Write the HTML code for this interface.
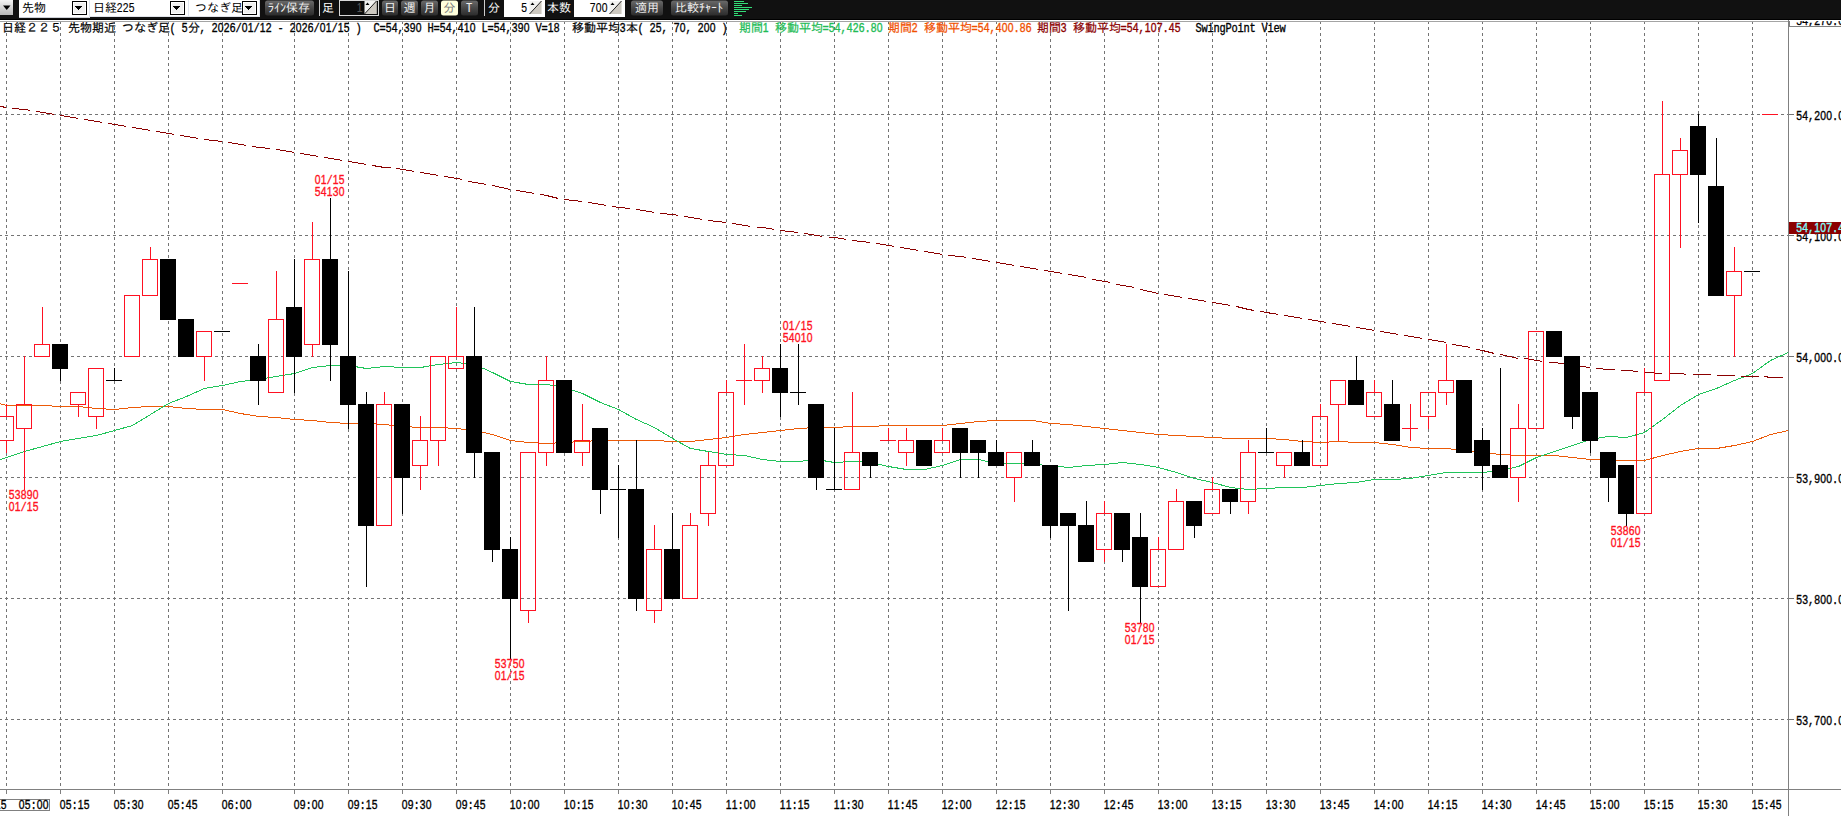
<!DOCTYPE html>
<html lang="ja"><head><meta charset="utf-8"><title>日経225 先物 チャート</title>
<style>html,body{margin:0;padding:0;background:#fff;overflow:hidden}body{width:1841px;height:816px}svg text{white-space:pre}</style>
</head><body>
<svg width="1841" height="816" viewBox="0 0 1841 816" font-family="'Liberation Mono','IPAGothic',monospace" style="display:block">
<rect width="1841" height="816" fill="#fff"/>
<g shape-rendering="crispEdges" stroke="#747474" stroke-width="1" fill="none">
<line x1="6.5" y1="21" x2="6.5" y2="789" stroke-dasharray="3 3"/>
<line x1="60.5" y1="21" x2="60.5" y2="789" stroke-dasharray="3 3"/>
<line x1="114.5" y1="21" x2="114.5" y2="789" stroke-dasharray="3 3"/>
<line x1="168.5" y1="21" x2="168.5" y2="789" stroke-dasharray="3 3"/>
<line x1="222.5" y1="21" x2="222.5" y2="789" stroke-dasharray="3 3"/>
<line x1="294.5" y1="21" x2="294.5" y2="789" stroke-dasharray="3 3"/>
<line x1="348.5" y1="21" x2="348.5" y2="789" stroke-dasharray="3 3"/>
<line x1="402.5" y1="21" x2="402.5" y2="789" stroke-dasharray="3 3"/>
<line x1="456.5" y1="21" x2="456.5" y2="789" stroke-dasharray="3 3"/>
<line x1="510.5" y1="21" x2="510.5" y2="789" stroke-dasharray="3 3"/>
<line x1="564.5" y1="21" x2="564.5" y2="789" stroke-dasharray="3 3"/>
<line x1="618.5" y1="21" x2="618.5" y2="789" stroke-dasharray="3 3"/>
<line x1="672.5" y1="21" x2="672.5" y2="789" stroke-dasharray="3 3"/>
<line x1="726.5" y1="21" x2="726.5" y2="789" stroke-dasharray="3 3"/>
<line x1="780.5" y1="21" x2="780.5" y2="789" stroke-dasharray="3 3"/>
<line x1="834.5" y1="21" x2="834.5" y2="789" stroke-dasharray="3 3"/>
<line x1="888.5" y1="21" x2="888.5" y2="789" stroke-dasharray="3 3"/>
<line x1="942.5" y1="21" x2="942.5" y2="789" stroke-dasharray="3 3"/>
<line x1="996.5" y1="21" x2="996.5" y2="789" stroke-dasharray="3 3"/>
<line x1="1050.5" y1="21" x2="1050.5" y2="789" stroke-dasharray="3 3"/>
<line x1="1104.5" y1="21" x2="1104.5" y2="789" stroke-dasharray="3 3"/>
<line x1="1158.5" y1="21" x2="1158.5" y2="789" stroke-dasharray="3 3"/>
<line x1="1212.5" y1="21" x2="1212.5" y2="789" stroke-dasharray="3 3"/>
<line x1="1266.5" y1="21" x2="1266.5" y2="789" stroke-dasharray="3 3"/>
<line x1="1320.5" y1="21" x2="1320.5" y2="789" stroke-dasharray="3 3"/>
<line x1="1374.5" y1="21" x2="1374.5" y2="789" stroke-dasharray="3 3"/>
<line x1="1428.5" y1="21" x2="1428.5" y2="789" stroke-dasharray="3 3"/>
<line x1="1482.5" y1="21" x2="1482.5" y2="789" stroke-dasharray="3 3"/>
<line x1="1536.5" y1="21" x2="1536.5" y2="789" stroke-dasharray="3 3"/>
<line x1="1590.5" y1="21" x2="1590.5" y2="789" stroke-dasharray="3 3"/>
<line x1="1644.5" y1="21" x2="1644.5" y2="789" stroke-dasharray="3 3"/>
<line x1="1698.5" y1="21" x2="1698.5" y2="789" stroke-dasharray="3 3"/>
<line x1="1752.5" y1="21" x2="1752.5" y2="789" stroke-dasharray="3 3"/>
<line x1="-1" y1="114.5" x2="1788" y2="114.5" stroke-dasharray="3 3"/>
<line x1="1789" y1="114.5" x2="1794" y2="114.5"/>
<line x1="-1" y1="235.5" x2="1788" y2="235.5" stroke-dasharray="3 3"/>
<line x1="1789" y1="235.5" x2="1794" y2="235.5"/>
<line x1="-1" y1="356.5" x2="1788" y2="356.5" stroke-dasharray="3 3"/>
<line x1="1789" y1="356.5" x2="1794" y2="356.5"/>
<line x1="-1" y1="477.5" x2="1788" y2="477.5" stroke-dasharray="3 3"/>
<line x1="1789" y1="477.5" x2="1794" y2="477.5"/>
<line x1="-1" y1="598.5" x2="1788" y2="598.5" stroke-dasharray="3 3"/>
<line x1="1789" y1="598.5" x2="1794" y2="598.5"/>
<line x1="-1" y1="719.5" x2="1788" y2="719.5" stroke-dasharray="3 3"/>
<line x1="1789" y1="719.5" x2="1794" y2="719.5"/>
</g>
<clipPath id="cp"><rect x="0" y="22" width="1788" height="767"/></clipPath>
<g clip-path="url(#cp)">
<polyline points="-11.5,400.5 6.5,405.5 24.5,405.5 42.5,405.5 60.5,406.5 78.5,406.5 96.5,408.5 114.5,409.5 132.5,407.5 150.5,406.5 168.5,406.5 186.5,408.5 204.5,409.5 222.5,409.5 240.5,413.5 258.5,416.5 276.5,417.5 294.5,419.5 312.5,420.5 330.5,422.5 348.5,423.5 366.5,423.5 384.5,424.5 402.5,426.5 420.5,427.5 438.5,427.5 456.5,428.5 474.5,430.5 492.5,434.5 510.5,440.5 528.5,442.5 546.5,443.5 564.5,442.5 582.5,441.5 600.5,440.5 618.5,440.5 636.5,440.5 654.5,440.5 672.5,441.5 690.5,441.5 708.5,439.5 726.5,437.5 744.5,434.5 762.5,432.5 780.5,430.5 798.5,428.5 816.5,427.5 834.5,427.5 852.5,426.5 870.5,426.5 888.5,425.5 906.5,425.5 924.5,425.5 942.5,425.5 960.5,423.5 978.5,421.5 996.5,420.5 1014.5,420.5 1032.5,420.5 1050.5,423.5 1068.5,424.5 1086.5,426.5 1104.5,428.5 1122.5,430.5 1140.5,432.5 1158.5,434.5 1176.5,435.5 1194.5,436.5 1212.5,437.5 1230.5,438.5 1248.5,438.5 1266.5,438.5 1284.5,439.5 1302.5,441.5 1320.5,442.5 1338.5,441.5 1356.5,442.5 1374.5,442.5 1392.5,444.5 1410.5,447.5 1428.5,448.5 1446.5,448.5 1464.5,450.5 1482.5,452.5 1500.5,454.5 1518.5,455.5 1536.5,455.5 1554.5,455.5 1572.5,457.5 1590.5,459.5 1608.5,460.5 1626.5,460.5 1644.5,460.5 1662.5,455.5 1680.5,451.5 1698.5,448.5 1716.5,448.5 1734.5,445.5 1752.5,441.5 1770.5,434.5 1788.5,430.5" fill="none" stroke="#ec5a08" stroke-width="1" shape-rendering="crispEdges"/>
<polyline points="-11.5,463.5 6.5,457.5 24.5,451.5 42.5,446.5 60.5,441.5 78.5,438.5 96.5,435.5 114.5,430.5 132.5,425.5 150.5,414.5 168.5,403.5 186.5,396.5 204.5,388.5 222.5,385.5 240.5,381.5 258.5,379.5 276.5,376.5 294.5,373.5 312.5,367.5 330.5,365.5 348.5,365.5 366.5,368.5 384.5,366.5 402.5,367.5 420.5,367.5 438.5,364.5 456.5,362.5 474.5,364.5 492.5,372.5 510.5,381.5 528.5,384.5 546.5,384.5 564.5,387.5 582.5,393.5 600.5,402.5 618.5,409.5 636.5,419.5 654.5,427.5 672.5,438.5 690.5,448.5 708.5,451.5 726.5,454.5 744.5,455.5 762.5,459.5 780.5,461.5 798.5,461.5 816.5,459.5 834.5,462.5 852.5,461.5 870.5,462.5 888.5,466.5 906.5,469.5 924.5,469.5 942.5,465.5 960.5,459.5 978.5,459.5 996.5,463.5 1014.5,463.5 1032.5,464.5 1050.5,465.5 1068.5,467.5 1086.5,465.5 1104.5,464.5 1122.5,462.5 1140.5,464.5 1158.5,467.5 1176.5,472.5 1194.5,478.5 1212.5,482.5 1230.5,487.5 1248.5,489.5 1266.5,488.5 1284.5,487.5 1302.5,487.5 1320.5,485.5 1338.5,483.5 1356.5,482.5 1374.5,479.5 1392.5,479.5 1410.5,478.5 1428.5,475.5 1446.5,472.5 1464.5,472.5 1482.5,472.5 1500.5,470.5 1518.5,466.5 1536.5,457.5 1554.5,451.5 1572.5,445.5 1590.5,439.5 1608.5,436.5 1626.5,437.5 1644.5,432.5 1662.5,419.5 1680.5,405.5 1698.5,394.5 1716.5,388.5 1734.5,380.5 1752.5,373.5 1770.5,360.5 1788.5,352.5" fill="none" stroke="#20c45a" stroke-width="1" shape-rendering="crispEdges"/>
<polyline points="-11.5,104.5 6.5,107.5" fill="none" stroke="#8b0000" stroke-width="1" shape-rendering="crispEdges"/>
<polyline points="12.5,108.5 24.5,109.5 30.5,110.5" fill="none" stroke="#8b0000" stroke-width="1" shape-rendering="crispEdges"/>
<polyline points="36.5,111.5 42.5,112.5 54.5,114.5" fill="none" stroke="#8b0000" stroke-width="1" shape-rendering="crispEdges"/>
<polyline points="60.5,115.5 78.5,118.5" fill="none" stroke="#8b0000" stroke-width="1" shape-rendering="crispEdges"/>
<polyline points="84.5,119.5 96.5,121.5 102.5,122.5" fill="none" stroke="#8b0000" stroke-width="1" shape-rendering="crispEdges"/>
<polyline points="108.5,123.5 114.5,124.5 126.5,126.5" fill="none" stroke="#8b0000" stroke-width="1" shape-rendering="crispEdges"/>
<polyline points="132.5,127.5 150.5,130.5" fill="none" stroke="#8b0000" stroke-width="1" shape-rendering="crispEdges"/>
<polyline points="156.5,131.5 168.5,133.5 174.5,134.5" fill="none" stroke="#8b0000" stroke-width="1" shape-rendering="crispEdges"/>
<polyline points="180.5,135.5 186.5,136.5 198.5,138.5" fill="none" stroke="#8b0000" stroke-width="1" shape-rendering="crispEdges"/>
<polyline points="204.5,139.5 222.5,141.5" fill="none" stroke="#8b0000" stroke-width="1" shape-rendering="crispEdges"/>
<polyline points="228.5,142.5 240.5,144.5 246.5,145.5" fill="none" stroke="#8b0000" stroke-width="1" shape-rendering="crispEdges"/>
<polyline points="252.5,146.5 258.5,147.5 270.5,148.5" fill="none" stroke="#8b0000" stroke-width="1" shape-rendering="crispEdges"/>
<polyline points="276.5,149.5 294.5,152.5" fill="none" stroke="#8b0000" stroke-width="1" shape-rendering="crispEdges"/>
<polyline points="300.5,153.5 312.5,155.5 318.5,156.5" fill="none" stroke="#8b0000" stroke-width="1" shape-rendering="crispEdges"/>
<polyline points="324.5,157.5 330.5,158.5 342.5,160.5" fill="none" stroke="#8b0000" stroke-width="1" shape-rendering="crispEdges"/>
<polyline points="348.5,161.5 366.5,164.5" fill="none" stroke="#8b0000" stroke-width="1" shape-rendering="crispEdges"/>
<polyline points="372.5,165.5 384.5,167.5 390.5,167.5" fill="none" stroke="#8b0000" stroke-width="1" shape-rendering="crispEdges"/>
<polyline points="396.5,168.5 402.5,169.5 414.5,171.5" fill="none" stroke="#8b0000" stroke-width="1" shape-rendering="crispEdges"/>
<polyline points="420.5,172.5 438.5,175.5" fill="none" stroke="#8b0000" stroke-width="1" shape-rendering="crispEdges"/>
<polyline points="444.5,176.5 456.5,178.5 462.5,179.5" fill="none" stroke="#8b0000" stroke-width="1" shape-rendering="crispEdges"/>
<polyline points="468.5,181.5 474.5,182.5 486.5,184.5" fill="none" stroke="#8b0000" stroke-width="1" shape-rendering="crispEdges"/>
<polyline points="492.5,185.5 510.5,189.5" fill="none" stroke="#8b0000" stroke-width="1" shape-rendering="crispEdges"/>
<polyline points="516.5,190.5 528.5,192.5 534.5,193.5" fill="none" stroke="#8b0000" stroke-width="1" shape-rendering="crispEdges"/>
<polyline points="540.5,194.5 546.5,195.5 558.5,198.5" fill="none" stroke="#8b0000" stroke-width="1" shape-rendering="crispEdges"/>
<polyline points="564.5,199.5 582.5,201.5" fill="none" stroke="#8b0000" stroke-width="1" shape-rendering="crispEdges"/>
<polyline points="588.5,202.5 600.5,204.5 606.5,205.5" fill="none" stroke="#8b0000" stroke-width="1" shape-rendering="crispEdges"/>
<polyline points="612.5,206.5 618.5,207.5 630.5,208.5" fill="none" stroke="#8b0000" stroke-width="1" shape-rendering="crispEdges"/>
<polyline points="636.5,209.5 654.5,212.5" fill="none" stroke="#8b0000" stroke-width="1" shape-rendering="crispEdges"/>
<polyline points="660.5,213.5 672.5,214.5 678.5,215.5" fill="none" stroke="#8b0000" stroke-width="1" shape-rendering="crispEdges"/>
<polyline points="684.5,216.5 690.5,217.5 702.5,219.5" fill="none" stroke="#8b0000" stroke-width="1" shape-rendering="crispEdges"/>
<polyline points="708.5,220.5 726.5,222.5" fill="none" stroke="#8b0000" stroke-width="1" shape-rendering="crispEdges"/>
<polyline points="732.5,223.5 744.5,225.5 750.5,226.5" fill="none" stroke="#8b0000" stroke-width="1" shape-rendering="crispEdges"/>
<polyline points="756.5,227.5 762.5,227.5 774.5,229.5" fill="none" stroke="#8b0000" stroke-width="1" shape-rendering="crispEdges"/>
<polyline points="780.5,230.5 798.5,232.5" fill="none" stroke="#8b0000" stroke-width="1" shape-rendering="crispEdges"/>
<polyline points="804.5,233.5 816.5,235.5 822.5,236.5" fill="none" stroke="#8b0000" stroke-width="1" shape-rendering="crispEdges"/>
<polyline points="828.5,237.5 834.5,237.5 846.5,239.5" fill="none" stroke="#8b0000" stroke-width="1" shape-rendering="crispEdges"/>
<polyline points="852.5,240.5 870.5,242.5" fill="none" stroke="#8b0000" stroke-width="1" shape-rendering="crispEdges"/>
<polyline points="876.5,243.5 888.5,245.5 894.5,246.5" fill="none" stroke="#8b0000" stroke-width="1" shape-rendering="crispEdges"/>
<polyline points="900.5,247.5 906.5,248.5 918.5,250.5" fill="none" stroke="#8b0000" stroke-width="1" shape-rendering="crispEdges"/>
<polyline points="924.5,251.5 942.5,254.5" fill="none" stroke="#8b0000" stroke-width="1" shape-rendering="crispEdges"/>
<polyline points="948.5,255.5 960.5,256.5 966.5,257.5" fill="none" stroke="#8b0000" stroke-width="1" shape-rendering="crispEdges"/>
<polyline points="972.5,258.5 978.5,259.5 990.5,261.5" fill="none" stroke="#8b0000" stroke-width="1" shape-rendering="crispEdges"/>
<polyline points="996.5,262.5 1014.5,265.5" fill="none" stroke="#8b0000" stroke-width="1" shape-rendering="crispEdges"/>
<polyline points="1020.5,266.5 1032.5,268.5 1038.5,269.5" fill="none" stroke="#8b0000" stroke-width="1" shape-rendering="crispEdges"/>
<polyline points="1044.5,270.5 1050.5,271.5 1062.5,273.5" fill="none" stroke="#8b0000" stroke-width="1" shape-rendering="crispEdges"/>
<polyline points="1068.5,274.5 1086.5,277.5" fill="none" stroke="#8b0000" stroke-width="1" shape-rendering="crispEdges"/>
<polyline points="1092.5,279.5 1104.5,281.5 1110.5,282.5" fill="none" stroke="#8b0000" stroke-width="1" shape-rendering="crispEdges"/>
<polyline points="1116.5,284.5 1122.5,285.5 1134.5,287.5" fill="none" stroke="#8b0000" stroke-width="1" shape-rendering="crispEdges"/>
<polyline points="1140.5,289.5 1158.5,293.5" fill="none" stroke="#8b0000" stroke-width="1" shape-rendering="crispEdges"/>
<polyline points="1164.5,294.5 1176.5,296.5 1182.5,297.5" fill="none" stroke="#8b0000" stroke-width="1" shape-rendering="crispEdges"/>
<polyline points="1188.5,298.5 1194.5,299.5 1206.5,301.5" fill="none" stroke="#8b0000" stroke-width="1" shape-rendering="crispEdges"/>
<polyline points="1212.5,302.5 1230.5,305.5" fill="none" stroke="#8b0000" stroke-width="1" shape-rendering="crispEdges"/>
<polyline points="1236.5,306.5 1248.5,309.5 1254.5,310.5" fill="none" stroke="#8b0000" stroke-width="1" shape-rendering="crispEdges"/>
<polyline points="1260.5,311.5 1266.5,312.5 1278.5,314.5" fill="none" stroke="#8b0000" stroke-width="1" shape-rendering="crispEdges"/>
<polyline points="1284.5,315.5 1302.5,318.5" fill="none" stroke="#8b0000" stroke-width="1" shape-rendering="crispEdges"/>
<polyline points="1308.5,319.5 1320.5,321.5 1326.5,322.5" fill="none" stroke="#8b0000" stroke-width="1" shape-rendering="crispEdges"/>
<polyline points="1332.5,323.5 1338.5,324.5 1350.5,326.5" fill="none" stroke="#8b0000" stroke-width="1" shape-rendering="crispEdges"/>
<polyline points="1356.5,327.5 1374.5,330.5" fill="none" stroke="#8b0000" stroke-width="1" shape-rendering="crispEdges"/>
<polyline points="1380.5,331.5 1392.5,333.5 1398.5,334.5" fill="none" stroke="#8b0000" stroke-width="1" shape-rendering="crispEdges"/>
<polyline points="1404.5,335.5 1410.5,336.5 1422.5,338.5" fill="none" stroke="#8b0000" stroke-width="1" shape-rendering="crispEdges"/>
<polyline points="1428.5,339.5 1446.5,342.5" fill="none" stroke="#8b0000" stroke-width="1" shape-rendering="crispEdges"/>
<polyline points="1452.5,344.5 1464.5,346.5 1470.5,347.5" fill="none" stroke="#8b0000" stroke-width="1" shape-rendering="crispEdges"/>
<polyline points="1476.5,349.5 1482.5,350.5 1494.5,353.5" fill="none" stroke="#8b0000" stroke-width="1" shape-rendering="crispEdges"/>
<polyline points="1500.5,354.5 1518.5,358.5" fill="none" stroke="#8b0000" stroke-width="1" shape-rendering="crispEdges"/>
<polyline points="1524.5,358.5 1536.5,360.5 1542.5,361.5" fill="none" stroke="#8b0000" stroke-width="1" shape-rendering="crispEdges"/>
<polyline points="1548.5,362.5 1554.5,362.5 1566.5,364.5" fill="none" stroke="#8b0000" stroke-width="1" shape-rendering="crispEdges"/>
<polyline points="1572.5,365.5 1590.5,367.5" fill="none" stroke="#8b0000" stroke-width="1" shape-rendering="crispEdges"/>
<polyline points="1596.5,368.5 1608.5,369.5 1614.5,369.5" fill="none" stroke="#8b0000" stroke-width="1" shape-rendering="crispEdges"/>
<polyline points="1620.5,370.5 1626.5,370.5 1638.5,371.5" fill="none" stroke="#8b0000" stroke-width="1" shape-rendering="crispEdges"/>
<polyline points="1644.5,372.5 1662.5,373.5" fill="none" stroke="#8b0000" stroke-width="1" shape-rendering="crispEdges"/>
<polyline points="1668.5,373.5 1680.5,373.5 1686.5,374.5" fill="none" stroke="#8b0000" stroke-width="1" shape-rendering="crispEdges"/>
<polyline points="1692.5,374.5 1698.5,374.5 1710.5,374.5" fill="none" stroke="#8b0000" stroke-width="1" shape-rendering="crispEdges"/>
<polyline points="1716.5,375.5 1734.5,375.5" fill="none" stroke="#8b0000" stroke-width="1" shape-rendering="crispEdges"/>
<polyline points="1740.5,376.5 1752.5,376.5 1758.5,376.5" fill="none" stroke="#8b0000" stroke-width="1" shape-rendering="crispEdges"/>
<polyline points="1764.5,376.5 1770.5,377.5 1782.5,377.5" fill="none" stroke="#8b0000" stroke-width="1" shape-rendering="crispEdges"/>
<polyline points="1788.5,377.5 1806.5,377.5" fill="none" stroke="#8b0000" stroke-width="1" shape-rendering="crispEdges"/>
</g>
<g shape-rendering="crispEdges">
<rect x="6" y="404" width="1" height="12" fill="#ff1122"/>
<rect x="6" y="441" width="1" height="12" fill="#ff1122"/>
<rect x="-1.5" y="416.5" width="15" height="24" fill="none" stroke="#ff1122" stroke-width="1"/>
<rect x="24" y="356" width="1" height="48" fill="#ff1122"/>
<rect x="24" y="429" width="1" height="61" fill="#ff1122"/>
<rect x="16.5" y="404.5" width="15" height="24" fill="none" stroke="#ff1122" stroke-width="1"/>
<rect x="42" y="307" width="1" height="37" fill="#ff1122"/>
<rect x="34.5" y="344.5" width="15" height="12" fill="none" stroke="#ff1122" stroke-width="1"/>
<rect x="60" y="344" width="1" height="37" fill="#000"/>
<rect x="52" y="344" width="16" height="25" fill="#000"/>
<rect x="78" y="405" width="1" height="12" fill="#ff1122"/>
<rect x="70.5" y="392.5" width="15" height="12" fill="none" stroke="#ff1122" stroke-width="1"/>
<rect x="96" y="417" width="1" height="12" fill="#ff1122"/>
<rect x="88.5" y="368.5" width="15" height="48" fill="none" stroke="#ff1122" stroke-width="1"/>
<rect x="114" y="368" width="1" height="13" fill="#000"/>
<rect x="106" y="380" width="16" height="1" fill="#000"/>
<rect x="124.5" y="295.5" width="15" height="61" fill="none" stroke="#ff1122" stroke-width="1"/>
<rect x="150" y="247" width="1" height="12" fill="#ff1122"/>
<rect x="142.5" y="259.5" width="15" height="36" fill="none" stroke="#ff1122" stroke-width="1"/>
<rect x="168" y="259" width="1" height="61" fill="#000"/>
<rect x="160" y="259" width="16" height="61" fill="#000"/>
<rect x="186" y="319" width="1" height="38" fill="#000"/>
<rect x="178" y="319" width="16" height="38" fill="#000"/>
<rect x="204" y="357" width="1" height="24" fill="#ff1122"/>
<rect x="196.5" y="331.5" width="15" height="25" fill="none" stroke="#ff1122" stroke-width="1"/>
<rect x="222" y="331" width="1" height="1" fill="#000"/>
<rect x="214" y="331" width="16" height="1" fill="#000"/>
<rect x="240" y="283" width="1" height="1" fill="#ff1122"/>
<rect x="232" y="283" width="16" height="1" fill="#ff1122"/>
<rect x="258" y="344" width="1" height="61" fill="#000"/>
<rect x="250" y="356" width="16" height="25" fill="#000"/>
<rect x="276" y="271" width="1" height="48" fill="#ff1122"/>
<rect x="268.5" y="319.5" width="15" height="73" fill="none" stroke="#ff1122" stroke-width="1"/>
<rect x="294" y="259" width="1" height="134" fill="#000"/>
<rect x="286" y="307" width="16" height="50" fill="#000"/>
<rect x="312" y="222" width="1" height="37" fill="#ff1122"/>
<rect x="312" y="345" width="1" height="12" fill="#ff1122"/>
<rect x="304.5" y="259.5" width="15" height="85" fill="none" stroke="#ff1122" stroke-width="1"/>
<rect x="330" y="198" width="1" height="183" fill="#000"/>
<rect x="322" y="259" width="16" height="86" fill="#000"/>
<rect x="348" y="271" width="1" height="158" fill="#000"/>
<rect x="340" y="356" width="16" height="49" fill="#000"/>
<rect x="366" y="392" width="1" height="195" fill="#000"/>
<rect x="358" y="404" width="16" height="122" fill="#000"/>
<rect x="384" y="392" width="1" height="12" fill="#ff1122"/>
<rect x="376.5" y="404.5" width="15" height="121" fill="none" stroke="#ff1122" stroke-width="1"/>
<rect x="402" y="404" width="1" height="110" fill="#000"/>
<rect x="394" y="404" width="16" height="74" fill="#000"/>
<rect x="420" y="416" width="1" height="24" fill="#ff1122"/>
<rect x="420" y="466" width="1" height="24" fill="#ff1122"/>
<rect x="412.5" y="440.5" width="15" height="25" fill="none" stroke="#ff1122" stroke-width="1"/>
<rect x="438" y="441" width="1" height="25" fill="#ff1122"/>
<rect x="430.5" y="356.5" width="15" height="84" fill="none" stroke="#ff1122" stroke-width="1"/>
<rect x="456" y="307" width="1" height="49" fill="#ff1122"/>
<rect x="448.5" y="356.5" width="15" height="12" fill="none" stroke="#ff1122" stroke-width="1"/>
<rect x="474" y="307" width="1" height="171" fill="#000"/>
<rect x="466" y="356" width="16" height="97" fill="#000"/>
<rect x="492" y="452" width="1" height="110" fill="#000"/>
<rect x="484" y="452" width="16" height="98" fill="#000"/>
<rect x="510" y="537" width="1" height="122" fill="#000"/>
<rect x="502" y="549" width="16" height="50" fill="#000"/>
<rect x="528" y="611" width="1" height="12" fill="#ff1122"/>
<rect x="520.5" y="452.5" width="15" height="158" fill="none" stroke="#ff1122" stroke-width="1"/>
<rect x="546" y="356" width="1" height="24" fill="#ff1122"/>
<rect x="546" y="453" width="1" height="13" fill="#ff1122"/>
<rect x="538.5" y="380.5" width="15" height="72" fill="none" stroke="#ff1122" stroke-width="1"/>
<rect x="564" y="380" width="1" height="73" fill="#000"/>
<rect x="556" y="380" width="16" height="73" fill="#000"/>
<rect x="582" y="404" width="1" height="36" fill="#ff1122"/>
<rect x="582" y="453" width="1" height="13" fill="#ff1122"/>
<rect x="574.5" y="440.5" width="15" height="12" fill="none" stroke="#ff1122" stroke-width="1"/>
<rect x="600" y="428" width="1" height="86" fill="#000"/>
<rect x="592" y="428" width="16" height="62" fill="#000"/>
<rect x="618" y="465" width="1" height="73" fill="#000"/>
<rect x="610" y="489" width="16" height="1" fill="#000"/>
<rect x="636" y="440" width="1" height="171" fill="#000"/>
<rect x="628" y="489" width="16" height="110" fill="#000"/>
<rect x="654" y="525" width="1" height="24" fill="#ff1122"/>
<rect x="654" y="611" width="1" height="12" fill="#ff1122"/>
<rect x="646.5" y="549.5" width="15" height="61" fill="none" stroke="#ff1122" stroke-width="1"/>
<rect x="672" y="513" width="1" height="86" fill="#000"/>
<rect x="664" y="549" width="16" height="50" fill="#000"/>
<rect x="690" y="513" width="1" height="12" fill="#ff1122"/>
<rect x="682.5" y="525.5" width="15" height="73" fill="none" stroke="#ff1122" stroke-width="1"/>
<rect x="708" y="452" width="1" height="13" fill="#ff1122"/>
<rect x="708" y="514" width="1" height="12" fill="#ff1122"/>
<rect x="700.5" y="465.5" width="15" height="48" fill="none" stroke="#ff1122" stroke-width="1"/>
<rect x="726" y="380" width="1" height="12" fill="#ff1122"/>
<rect x="718.5" y="392.5" width="15" height="73" fill="none" stroke="#ff1122" stroke-width="1"/>
<rect x="744" y="344" width="1" height="61" fill="#ff1122"/>
<rect x="736" y="380" width="16" height="1" fill="#ff1122"/>
<rect x="762" y="356" width="1" height="12" fill="#ff1122"/>
<rect x="762" y="381" width="1" height="12" fill="#ff1122"/>
<rect x="754.5" y="368.5" width="15" height="12" fill="none" stroke="#ff1122" stroke-width="1"/>
<rect x="780" y="344" width="1" height="73" fill="#000"/>
<rect x="772" y="368" width="16" height="25" fill="#000"/>
<rect x="798" y="344" width="1" height="61" fill="#000"/>
<rect x="790" y="392" width="16" height="1" fill="#000"/>
<rect x="816" y="404" width="1" height="86" fill="#000"/>
<rect x="808" y="404" width="16" height="74" fill="#000"/>
<rect x="834" y="428" width="1" height="62" fill="#000"/>
<rect x="826" y="489" width="16" height="1" fill="#000"/>
<rect x="852" y="392" width="1" height="60" fill="#ff1122"/>
<rect x="844.5" y="452.5" width="15" height="37" fill="none" stroke="#ff1122" stroke-width="1"/>
<rect x="870" y="452" width="1" height="26" fill="#000"/>
<rect x="862" y="452" width="16" height="14" fill="#000"/>
<rect x="888" y="428" width="1" height="13" fill="#ff1122"/>
<rect x="880" y="440" width="16" height="1" fill="#ff1122"/>
<rect x="906" y="428" width="1" height="12" fill="#ff1122"/>
<rect x="906" y="453" width="1" height="13" fill="#ff1122"/>
<rect x="898.5" y="440.5" width="15" height="12" fill="none" stroke="#ff1122" stroke-width="1"/>
<rect x="924" y="440" width="1" height="26" fill="#000"/>
<rect x="916" y="440" width="16" height="26" fill="#000"/>
<rect x="942" y="428" width="1" height="12" fill="#ff1122"/>
<rect x="934.5" y="440.5" width="15" height="12" fill="none" stroke="#ff1122" stroke-width="1"/>
<rect x="960" y="428" width="1" height="50" fill="#000"/>
<rect x="952" y="428" width="16" height="25" fill="#000"/>
<rect x="978" y="440" width="1" height="38" fill="#000"/>
<rect x="970" y="440" width="16" height="13" fill="#000"/>
<rect x="996" y="440" width="1" height="26" fill="#000"/>
<rect x="988" y="452" width="16" height="14" fill="#000"/>
<rect x="1014" y="478" width="1" height="24" fill="#ff1122"/>
<rect x="1006.5" y="452.5" width="15" height="25" fill="none" stroke="#ff1122" stroke-width="1"/>
<rect x="1032" y="440" width="1" height="26" fill="#000"/>
<rect x="1024" y="452" width="16" height="14" fill="#000"/>
<rect x="1050" y="465" width="1" height="73" fill="#000"/>
<rect x="1042" y="465" width="16" height="61" fill="#000"/>
<rect x="1068" y="513" width="1" height="98" fill="#000"/>
<rect x="1060" y="513" width="16" height="13" fill="#000"/>
<rect x="1086" y="501" width="1" height="61" fill="#000"/>
<rect x="1078" y="525" width="16" height="37" fill="#000"/>
<rect x="1104" y="501" width="1" height="12" fill="#ff1122"/>
<rect x="1104" y="550" width="1" height="12" fill="#ff1122"/>
<rect x="1096.5" y="513.5" width="15" height="36" fill="none" stroke="#ff1122" stroke-width="1"/>
<rect x="1122" y="513" width="1" height="49" fill="#000"/>
<rect x="1114" y="513" width="16" height="37" fill="#000"/>
<rect x="1140" y="513" width="1" height="110" fill="#000"/>
<rect x="1132" y="537" width="16" height="50" fill="#000"/>
<rect x="1158" y="537" width="1" height="12" fill="#ff1122"/>
<rect x="1150.5" y="549.5" width="15" height="37" fill="none" stroke="#ff1122" stroke-width="1"/>
<rect x="1176" y="489" width="1" height="12" fill="#ff1122"/>
<rect x="1168.5" y="501.5" width="15" height="48" fill="none" stroke="#ff1122" stroke-width="1"/>
<rect x="1194" y="501" width="1" height="37" fill="#000"/>
<rect x="1186" y="501" width="16" height="25" fill="#000"/>
<rect x="1212" y="477" width="1" height="12" fill="#ff1122"/>
<rect x="1204.5" y="489.5" width="15" height="24" fill="none" stroke="#ff1122" stroke-width="1"/>
<rect x="1230" y="489" width="1" height="25" fill="#000"/>
<rect x="1222" y="489" width="16" height="13" fill="#000"/>
<rect x="1248" y="440" width="1" height="12" fill="#ff1122"/>
<rect x="1248" y="502" width="1" height="12" fill="#ff1122"/>
<rect x="1240.5" y="452.5" width="15" height="49" fill="none" stroke="#ff1122" stroke-width="1"/>
<rect x="1266" y="428" width="1" height="25" fill="#000"/>
<rect x="1258" y="452" width="16" height="1" fill="#000"/>
<rect x="1284" y="466" width="1" height="12" fill="#ff1122"/>
<rect x="1276.5" y="452.5" width="15" height="13" fill="none" stroke="#ff1122" stroke-width="1"/>
<rect x="1302" y="440" width="1" height="26" fill="#000"/>
<rect x="1294" y="452" width="16" height="14" fill="#000"/>
<rect x="1320" y="404" width="1" height="12" fill="#ff1122"/>
<rect x="1312.5" y="416.5" width="15" height="49" fill="none" stroke="#ff1122" stroke-width="1"/>
<rect x="1338" y="405" width="1" height="36" fill="#ff1122"/>
<rect x="1330.5" y="380.5" width="15" height="24" fill="none" stroke="#ff1122" stroke-width="1"/>
<rect x="1356" y="356" width="1" height="49" fill="#000"/>
<rect x="1348" y="380" width="16" height="25" fill="#000"/>
<rect x="1374" y="380" width="1" height="12" fill="#ff1122"/>
<rect x="1366.5" y="392.5" width="15" height="24" fill="none" stroke="#ff1122" stroke-width="1"/>
<rect x="1392" y="380" width="1" height="61" fill="#000"/>
<rect x="1384" y="404" width="16" height="37" fill="#000"/>
<rect x="1410" y="404" width="1" height="37" fill="#ff1122"/>
<rect x="1402" y="428" width="16" height="1" fill="#ff1122"/>
<rect x="1428" y="417" width="1" height="12" fill="#ff1122"/>
<rect x="1420.5" y="392.5" width="15" height="24" fill="none" stroke="#ff1122" stroke-width="1"/>
<rect x="1446" y="344" width="1" height="36" fill="#ff1122"/>
<rect x="1446" y="393" width="1" height="12" fill="#ff1122"/>
<rect x="1438.5" y="380.5" width="15" height="12" fill="none" stroke="#ff1122" stroke-width="1"/>
<rect x="1464" y="380" width="1" height="73" fill="#000"/>
<rect x="1456" y="380" width="16" height="73" fill="#000"/>
<rect x="1482" y="428" width="1" height="62" fill="#000"/>
<rect x="1474" y="440" width="16" height="26" fill="#000"/>
<rect x="1500" y="368" width="1" height="110" fill="#000"/>
<rect x="1492" y="465" width="16" height="13" fill="#000"/>
<rect x="1518" y="404" width="1" height="24" fill="#ff1122"/>
<rect x="1518" y="478" width="1" height="24" fill="#ff1122"/>
<rect x="1510.5" y="428.5" width="15" height="49" fill="none" stroke="#ff1122" stroke-width="1"/>
<rect x="1528.5" y="331.5" width="15" height="97" fill="none" stroke="#ff1122" stroke-width="1"/>
<rect x="1554" y="331" width="1" height="26" fill="#000"/>
<rect x="1546" y="331" width="16" height="26" fill="#000"/>
<rect x="1572" y="356" width="1" height="73" fill="#000"/>
<rect x="1564" y="356" width="16" height="61" fill="#000"/>
<rect x="1590" y="392" width="1" height="61" fill="#000"/>
<rect x="1582" y="392" width="16" height="49" fill="#000"/>
<rect x="1608" y="452" width="1" height="50" fill="#000"/>
<rect x="1600" y="452" width="16" height="26" fill="#000"/>
<rect x="1626" y="465" width="1" height="61" fill="#000"/>
<rect x="1618" y="465" width="16" height="49" fill="#000"/>
<rect x="1644" y="368" width="1" height="24" fill="#ff1122"/>
<rect x="1636.5" y="392.5" width="15" height="121" fill="none" stroke="#ff1122" stroke-width="1"/>
<rect x="1662" y="101" width="1" height="73" fill="#ff1122"/>
<rect x="1654.5" y="174.5" width="15" height="206" fill="none" stroke="#ff1122" stroke-width="1"/>
<rect x="1680" y="138" width="1" height="12" fill="#ff1122"/>
<rect x="1680" y="175" width="1" height="73" fill="#ff1122"/>
<rect x="1672.5" y="150.5" width="15" height="24" fill="none" stroke="#ff1122" stroke-width="1"/>
<rect x="1698" y="114" width="1" height="109" fill="#000"/>
<rect x="1690" y="126" width="16" height="49" fill="#000"/>
<rect x="1716" y="138" width="1" height="158" fill="#000"/>
<rect x="1708" y="186" width="16" height="110" fill="#000"/>
<rect x="1734" y="247" width="1" height="24" fill="#ff1122"/>
<rect x="1734" y="296" width="1" height="61" fill="#ff1122"/>
<rect x="1726.5" y="271.5" width="15" height="24" fill="none" stroke="#ff1122" stroke-width="1"/>
<rect x="1752" y="271" width="1" height="1" fill="#000"/>
<rect x="1744" y="271" width="16" height="1" fill="#000"/>
<rect x="1770" y="114" width="1" height="1" fill="#ff1122"/>
<rect x="1762" y="114" width="16" height="1" fill="#ff1122"/>
</g>
<text transform="translate(9,499) scale(0.8,1)" text-anchor="middle" x="3.25 10.75 18.25 25.75 33.25" font-size="13" fill="#ff1122" stroke="#ff1122" stroke-width="0.35"><tspan font-family="'Liberation Sans',sans-serif">53890</tspan></text>
<text transform="translate(9,511) scale(0.8,1)" text-anchor="middle" x="3.25 10.75 18.25 25.75 33.25" font-size="13" fill="#ff1122" stroke="#ff1122" stroke-width="0.35"><tspan font-family="'Liberation Sans',sans-serif">01</tspan>/<tspan font-family="'Liberation Sans',sans-serif">15</tspan></text>
<text transform="translate(315,184) scale(0.8,1)" text-anchor="middle" x="3.25 10.75 18.25 25.75 33.25" font-size="13" fill="#ff1122" stroke="#ff1122" stroke-width="0.35"><tspan font-family="'Liberation Sans',sans-serif">01</tspan>/<tspan font-family="'Liberation Sans',sans-serif">15</tspan></text>
<text transform="translate(315,196) scale(0.8,1)" text-anchor="middle" x="3.25 10.75 18.25 25.75 33.25" font-size="13" fill="#ff1122" stroke="#ff1122" stroke-width="0.35"><tspan font-family="'Liberation Sans',sans-serif">54130</tspan></text>
<text transform="translate(495,668) scale(0.8,1)" text-anchor="middle" x="3.25 10.75 18.25 25.75 33.25" font-size="13" fill="#ff1122" stroke="#ff1122" stroke-width="0.35"><tspan font-family="'Liberation Sans',sans-serif">53750</tspan></text>
<text transform="translate(495,680) scale(0.8,1)" text-anchor="middle" x="3.25 10.75 18.25 25.75 33.25" font-size="13" fill="#ff1122" stroke="#ff1122" stroke-width="0.35"><tspan font-family="'Liberation Sans',sans-serif">01</tspan>/<tspan font-family="'Liberation Sans',sans-serif">15</tspan></text>
<text transform="translate(783,330) scale(0.8,1)" text-anchor="middle" x="3.25 10.75 18.25 25.75 33.25" font-size="13" fill="#ff1122" stroke="#ff1122" stroke-width="0.35"><tspan font-family="'Liberation Sans',sans-serif">01</tspan>/<tspan font-family="'Liberation Sans',sans-serif">15</tspan></text>
<text transform="translate(783,342) scale(0.8,1)" text-anchor="middle" x="3.25 10.75 18.25 25.75 33.25" font-size="13" fill="#ff1122" stroke="#ff1122" stroke-width="0.35"><tspan font-family="'Liberation Sans',sans-serif">54010</tspan></text>
<text transform="translate(1125,632) scale(0.8,1)" text-anchor="middle" x="3.25 10.75 18.25 25.75 33.25" font-size="13" fill="#ff1122" stroke="#ff1122" stroke-width="0.35"><tspan font-family="'Liberation Sans',sans-serif">53780</tspan></text>
<text transform="translate(1125,644) scale(0.8,1)" text-anchor="middle" x="3.25 10.75 18.25 25.75 33.25" font-size="13" fill="#ff1122" stroke="#ff1122" stroke-width="0.35"><tspan font-family="'Liberation Sans',sans-serif">01</tspan>/<tspan font-family="'Liberation Sans',sans-serif">15</tspan></text>
<text transform="translate(1611,535) scale(0.8,1)" text-anchor="middle" x="3.25 10.75 18.25 25.75 33.25" font-size="13" fill="#ff1122" stroke="#ff1122" stroke-width="0.35"><tspan font-family="'Liberation Sans',sans-serif">53860</tspan></text>
<text transform="translate(1611,547) scale(0.8,1)" text-anchor="middle" x="3.25 10.75 18.25 25.75 33.25" font-size="13" fill="#ff1122" stroke="#ff1122" stroke-width="0.35"><tspan font-family="'Liberation Sans',sans-serif">01</tspan>/<tspan font-family="'Liberation Sans',sans-serif">15</tspan></text>
<g shape-rendering="crispEdges" fill="#808080">
<rect x="0" y="21" width="1788" height="1" fill="#a4a4a4"/>
<rect x="1788" y="20" width="1" height="796"/>
<rect x="0" y="789" width="1841" height="1"/>
<rect x="6" y="790" width="1" height="4"/>
<rect x="60" y="790" width="1" height="4"/>
<rect x="114" y="790" width="1" height="4"/>
<rect x="168" y="790" width="1" height="4"/>
<rect x="222" y="790" width="1" height="4"/>
<rect x="294" y="790" width="1" height="4"/>
<rect x="348" y="790" width="1" height="4"/>
<rect x="402" y="790" width="1" height="4"/>
<rect x="456" y="790" width="1" height="4"/>
<rect x="510" y="790" width="1" height="4"/>
<rect x="564" y="790" width="1" height="4"/>
<rect x="618" y="790" width="1" height="4"/>
<rect x="672" y="790" width="1" height="4"/>
<rect x="726" y="790" width="1" height="4"/>
<rect x="780" y="790" width="1" height="4"/>
<rect x="834" y="790" width="1" height="4"/>
<rect x="888" y="790" width="1" height="4"/>
<rect x="942" y="790" width="1" height="4"/>
<rect x="996" y="790" width="1" height="4"/>
<rect x="1050" y="790" width="1" height="4"/>
<rect x="1104" y="790" width="1" height="4"/>
<rect x="1158" y="790" width="1" height="4"/>
<rect x="1212" y="790" width="1" height="4"/>
<rect x="1266" y="790" width="1" height="4"/>
<rect x="1320" y="790" width="1" height="4"/>
<rect x="1374" y="790" width="1" height="4"/>
<rect x="1428" y="790" width="1" height="4"/>
<rect x="1482" y="790" width="1" height="4"/>
<rect x="1536" y="790" width="1" height="4"/>
<rect x="1590" y="790" width="1" height="4"/>
<rect x="1644" y="790" width="1" height="4"/>
<rect x="1698" y="790" width="1" height="4"/>
<rect x="1752" y="790" width="1" height="4"/>
<rect x="1789" y="21" width="1" height="6"/><rect x="1789" y="26" width="52" height="1"/>
</g>
<clipPath id="ct"><rect x="1790" y="21" width="60" height="5"/></clipPath>
<g clip-path="url(#ct)">
<text transform="translate(1796.5,25) scale(0.8,1)" text-anchor="middle" x="3.25 10.75 18.25 25.75 33.25 40.75 48.25 55.75" font-size="13" fill="#000" stroke="#000" stroke-width="0.35"><tspan font-family="'Liberation Sans',sans-serif">54</tspan>,<tspan font-family="'Liberation Sans',sans-serif">270</tspan>.<tspan font-family="'Liberation Sans',sans-serif">0</tspan></text>
</g>
<text transform="translate(1796.5,120) scale(0.8,1)" text-anchor="middle" x="3.25 10.75 18.25 25.75 33.25 40.75 48.25 55.75" font-size="13" fill="#000" stroke="#000" stroke-width="0.35"><tspan font-family="'Liberation Sans',sans-serif">54</tspan>,<tspan font-family="'Liberation Sans',sans-serif">200</tspan>.<tspan font-family="'Liberation Sans',sans-serif">0</tspan></text>
<text transform="translate(1796.5,241) scale(0.8,1)" text-anchor="middle" x="3.25 10.75 18.25 25.75 33.25 40.75 48.25 55.75" font-size="13" fill="#000" stroke="#000" stroke-width="0.35"><tspan font-family="'Liberation Sans',sans-serif">54</tspan>,<tspan font-family="'Liberation Sans',sans-serif">100</tspan>.<tspan font-family="'Liberation Sans',sans-serif">0</tspan></text>
<text transform="translate(1796.5,362) scale(0.8,1)" text-anchor="middle" x="3.25 10.75 18.25 25.75 33.25 40.75 48.25 55.75" font-size="13" fill="#000" stroke="#000" stroke-width="0.35"><tspan font-family="'Liberation Sans',sans-serif">54</tspan>,<tspan font-family="'Liberation Sans',sans-serif">000</tspan>.<tspan font-family="'Liberation Sans',sans-serif">0</tspan></text>
<text transform="translate(1796.5,483) scale(0.8,1)" text-anchor="middle" x="3.25 10.75 18.25 25.75 33.25 40.75 48.25 55.75" font-size="13" fill="#000" stroke="#000" stroke-width="0.35"><tspan font-family="'Liberation Sans',sans-serif">53</tspan>,<tspan font-family="'Liberation Sans',sans-serif">900</tspan>.<tspan font-family="'Liberation Sans',sans-serif">0</tspan></text>
<text transform="translate(1796.5,604) scale(0.8,1)" text-anchor="middle" x="3.25 10.75 18.25 25.75 33.25 40.75 48.25 55.75" font-size="13" fill="#000" stroke="#000" stroke-width="0.35"><tspan font-family="'Liberation Sans',sans-serif">53</tspan>,<tspan font-family="'Liberation Sans',sans-serif">800</tspan>.<tspan font-family="'Liberation Sans',sans-serif">0</tspan></text>
<text transform="translate(1796.5,725) scale(0.8,1)" text-anchor="middle" x="3.25 10.75 18.25 25.75 33.25 40.75 48.25 55.75" font-size="13" fill="#000" stroke="#000" stroke-width="0.35"><tspan font-family="'Liberation Sans',sans-serif">53</tspan>,<tspan font-family="'Liberation Sans',sans-serif">700</tspan>.<tspan font-family="'Liberation Sans',sans-serif">0</tspan></text>
<rect x="1789" y="222" width="52" height="12" fill="#8b0000" shape-rendering="crispEdges"/>
<text transform="translate(1796.5,232) scale(0.8,1)" text-anchor="middle" x="3.25 10.75 18.25 25.75 33.25 40.75 48.25 55.75 63.25" font-size="13" fill="#7fffff" stroke="#7fffff" stroke-width="0.35"><tspan font-family="'Liberation Sans',sans-serif">54</tspan>,<tspan font-family="'Liberation Sans',sans-serif">107</tspan>.<tspan font-family="'Liberation Sans',sans-serif">45</tspan></text>
<text transform="translate(60,809) scale(0.8,1)" text-anchor="middle" x="3.25 10.75 18.25 25.75 33.25" font-size="13" fill="#000" stroke="#000" stroke-width="0.35"><tspan font-family="'Liberation Sans',sans-serif">05</tspan>:<tspan font-family="'Liberation Sans',sans-serif">15</tspan></text>
<text transform="translate(114,809) scale(0.8,1)" text-anchor="middle" x="3.25 10.75 18.25 25.75 33.25" font-size="13" fill="#000" stroke="#000" stroke-width="0.35"><tspan font-family="'Liberation Sans',sans-serif">05</tspan>:<tspan font-family="'Liberation Sans',sans-serif">30</tspan></text>
<text transform="translate(168,809) scale(0.8,1)" text-anchor="middle" x="3.25 10.75 18.25 25.75 33.25" font-size="13" fill="#000" stroke="#000" stroke-width="0.35"><tspan font-family="'Liberation Sans',sans-serif">05</tspan>:<tspan font-family="'Liberation Sans',sans-serif">45</tspan></text>
<text transform="translate(222,809) scale(0.8,1)" text-anchor="middle" x="3.25 10.75 18.25 25.75 33.25" font-size="13" fill="#000" stroke="#000" stroke-width="0.35"><tspan font-family="'Liberation Sans',sans-serif">06</tspan>:<tspan font-family="'Liberation Sans',sans-serif">00</tspan></text>
<text transform="translate(294,809) scale(0.8,1)" text-anchor="middle" x="3.25 10.75 18.25 25.75 33.25" font-size="13" fill="#000" stroke="#000" stroke-width="0.35"><tspan font-family="'Liberation Sans',sans-serif">09</tspan>:<tspan font-family="'Liberation Sans',sans-serif">00</tspan></text>
<text transform="translate(348,809) scale(0.8,1)" text-anchor="middle" x="3.25 10.75 18.25 25.75 33.25" font-size="13" fill="#000" stroke="#000" stroke-width="0.35"><tspan font-family="'Liberation Sans',sans-serif">09</tspan>:<tspan font-family="'Liberation Sans',sans-serif">15</tspan></text>
<text transform="translate(402,809) scale(0.8,1)" text-anchor="middle" x="3.25 10.75 18.25 25.75 33.25" font-size="13" fill="#000" stroke="#000" stroke-width="0.35"><tspan font-family="'Liberation Sans',sans-serif">09</tspan>:<tspan font-family="'Liberation Sans',sans-serif">30</tspan></text>
<text transform="translate(456,809) scale(0.8,1)" text-anchor="middle" x="3.25 10.75 18.25 25.75 33.25" font-size="13" fill="#000" stroke="#000" stroke-width="0.35"><tspan font-family="'Liberation Sans',sans-serif">09</tspan>:<tspan font-family="'Liberation Sans',sans-serif">45</tspan></text>
<text transform="translate(510,809) scale(0.8,1)" text-anchor="middle" x="3.25 10.75 18.25 25.75 33.25" font-size="13" fill="#000" stroke="#000" stroke-width="0.35"><tspan font-family="'Liberation Sans',sans-serif">10</tspan>:<tspan font-family="'Liberation Sans',sans-serif">00</tspan></text>
<text transform="translate(564,809) scale(0.8,1)" text-anchor="middle" x="3.25 10.75 18.25 25.75 33.25" font-size="13" fill="#000" stroke="#000" stroke-width="0.35"><tspan font-family="'Liberation Sans',sans-serif">10</tspan>:<tspan font-family="'Liberation Sans',sans-serif">15</tspan></text>
<text transform="translate(618,809) scale(0.8,1)" text-anchor="middle" x="3.25 10.75 18.25 25.75 33.25" font-size="13" fill="#000" stroke="#000" stroke-width="0.35"><tspan font-family="'Liberation Sans',sans-serif">10</tspan>:<tspan font-family="'Liberation Sans',sans-serif">30</tspan></text>
<text transform="translate(672,809) scale(0.8,1)" text-anchor="middle" x="3.25 10.75 18.25 25.75 33.25" font-size="13" fill="#000" stroke="#000" stroke-width="0.35"><tspan font-family="'Liberation Sans',sans-serif">10</tspan>:<tspan font-family="'Liberation Sans',sans-serif">45</tspan></text>
<text transform="translate(726,809) scale(0.8,1)" text-anchor="middle" x="3.25 10.75 18.25 25.75 33.25" font-size="13" fill="#000" stroke="#000" stroke-width="0.35"><tspan font-family="'Liberation Sans',sans-serif">11</tspan>:<tspan font-family="'Liberation Sans',sans-serif">00</tspan></text>
<text transform="translate(780,809) scale(0.8,1)" text-anchor="middle" x="3.25 10.75 18.25 25.75 33.25" font-size="13" fill="#000" stroke="#000" stroke-width="0.35"><tspan font-family="'Liberation Sans',sans-serif">11</tspan>:<tspan font-family="'Liberation Sans',sans-serif">15</tspan></text>
<text transform="translate(834,809) scale(0.8,1)" text-anchor="middle" x="3.25 10.75 18.25 25.75 33.25" font-size="13" fill="#000" stroke="#000" stroke-width="0.35"><tspan font-family="'Liberation Sans',sans-serif">11</tspan>:<tspan font-family="'Liberation Sans',sans-serif">30</tspan></text>
<text transform="translate(888,809) scale(0.8,1)" text-anchor="middle" x="3.25 10.75 18.25 25.75 33.25" font-size="13" fill="#000" stroke="#000" stroke-width="0.35"><tspan font-family="'Liberation Sans',sans-serif">11</tspan>:<tspan font-family="'Liberation Sans',sans-serif">45</tspan></text>
<text transform="translate(942,809) scale(0.8,1)" text-anchor="middle" x="3.25 10.75 18.25 25.75 33.25" font-size="13" fill="#000" stroke="#000" stroke-width="0.35"><tspan font-family="'Liberation Sans',sans-serif">12</tspan>:<tspan font-family="'Liberation Sans',sans-serif">00</tspan></text>
<text transform="translate(996,809) scale(0.8,1)" text-anchor="middle" x="3.25 10.75 18.25 25.75 33.25" font-size="13" fill="#000" stroke="#000" stroke-width="0.35"><tspan font-family="'Liberation Sans',sans-serif">12</tspan>:<tspan font-family="'Liberation Sans',sans-serif">15</tspan></text>
<text transform="translate(1050,809) scale(0.8,1)" text-anchor="middle" x="3.25 10.75 18.25 25.75 33.25" font-size="13" fill="#000" stroke="#000" stroke-width="0.35"><tspan font-family="'Liberation Sans',sans-serif">12</tspan>:<tspan font-family="'Liberation Sans',sans-serif">30</tspan></text>
<text transform="translate(1104,809) scale(0.8,1)" text-anchor="middle" x="3.25 10.75 18.25 25.75 33.25" font-size="13" fill="#000" stroke="#000" stroke-width="0.35"><tspan font-family="'Liberation Sans',sans-serif">12</tspan>:<tspan font-family="'Liberation Sans',sans-serif">45</tspan></text>
<text transform="translate(1158,809) scale(0.8,1)" text-anchor="middle" x="3.25 10.75 18.25 25.75 33.25" font-size="13" fill="#000" stroke="#000" stroke-width="0.35"><tspan font-family="'Liberation Sans',sans-serif">13</tspan>:<tspan font-family="'Liberation Sans',sans-serif">00</tspan></text>
<text transform="translate(1212,809) scale(0.8,1)" text-anchor="middle" x="3.25 10.75 18.25 25.75 33.25" font-size="13" fill="#000" stroke="#000" stroke-width="0.35"><tspan font-family="'Liberation Sans',sans-serif">13</tspan>:<tspan font-family="'Liberation Sans',sans-serif">15</tspan></text>
<text transform="translate(1266,809) scale(0.8,1)" text-anchor="middle" x="3.25 10.75 18.25 25.75 33.25" font-size="13" fill="#000" stroke="#000" stroke-width="0.35"><tspan font-family="'Liberation Sans',sans-serif">13</tspan>:<tspan font-family="'Liberation Sans',sans-serif">30</tspan></text>
<text transform="translate(1320,809) scale(0.8,1)" text-anchor="middle" x="3.25 10.75 18.25 25.75 33.25" font-size="13" fill="#000" stroke="#000" stroke-width="0.35"><tspan font-family="'Liberation Sans',sans-serif">13</tspan>:<tspan font-family="'Liberation Sans',sans-serif">45</tspan></text>
<text transform="translate(1374,809) scale(0.8,1)" text-anchor="middle" x="3.25 10.75 18.25 25.75 33.25" font-size="13" fill="#000" stroke="#000" stroke-width="0.35"><tspan font-family="'Liberation Sans',sans-serif">14</tspan>:<tspan font-family="'Liberation Sans',sans-serif">00</tspan></text>
<text transform="translate(1428,809) scale(0.8,1)" text-anchor="middle" x="3.25 10.75 18.25 25.75 33.25" font-size="13" fill="#000" stroke="#000" stroke-width="0.35"><tspan font-family="'Liberation Sans',sans-serif">14</tspan>:<tspan font-family="'Liberation Sans',sans-serif">15</tspan></text>
<text transform="translate(1482,809) scale(0.8,1)" text-anchor="middle" x="3.25 10.75 18.25 25.75 33.25" font-size="13" fill="#000" stroke="#000" stroke-width="0.35"><tspan font-family="'Liberation Sans',sans-serif">14</tspan>:<tspan font-family="'Liberation Sans',sans-serif">30</tspan></text>
<text transform="translate(1536,809) scale(0.8,1)" text-anchor="middle" x="3.25 10.75 18.25 25.75 33.25" font-size="13" fill="#000" stroke="#000" stroke-width="0.35"><tspan font-family="'Liberation Sans',sans-serif">14</tspan>:<tspan font-family="'Liberation Sans',sans-serif">45</tspan></text>
<text transform="translate(1590,809) scale(0.8,1)" text-anchor="middle" x="3.25 10.75 18.25 25.75 33.25" font-size="13" fill="#000" stroke="#000" stroke-width="0.35"><tspan font-family="'Liberation Sans',sans-serif">15</tspan>:<tspan font-family="'Liberation Sans',sans-serif">00</tspan></text>
<text transform="translate(1644,809) scale(0.8,1)" text-anchor="middle" x="3.25 10.75 18.25 25.75 33.25" font-size="13" fill="#000" stroke="#000" stroke-width="0.35"><tspan font-family="'Liberation Sans',sans-serif">15</tspan>:<tspan font-family="'Liberation Sans',sans-serif">15</tspan></text>
<text transform="translate(1698,809) scale(0.8,1)" text-anchor="middle" x="3.25 10.75 18.25 25.75 33.25" font-size="13" fill="#000" stroke="#000" stroke-width="0.35"><tspan font-family="'Liberation Sans',sans-serif">15</tspan>:<tspan font-family="'Liberation Sans',sans-serif">30</tspan></text>
<text transform="translate(1752,809) scale(0.8,1)" text-anchor="middle" x="3.25 10.75 18.25 25.75 33.25" font-size="13" fill="#000" stroke="#000" stroke-width="0.35"><tspan font-family="'Liberation Sans',sans-serif">15</tspan>:<tspan font-family="'Liberation Sans',sans-serif">45</tspan></text>
<rect x="-1.5" y="799.5" width="51" height="11" fill="#fff" stroke="#808080" shape-rendering="crispEdges"/>
<text transform="translate(-23,809) scale(0.8,1)" text-anchor="middle" x="3.25 10.75 18.25 25.75 33.25" font-size="13" fill="#000" stroke="#000" stroke-width="0.35"><tspan font-family="'Liberation Sans',sans-serif">01</tspan>/<tspan font-family="'Liberation Sans',sans-serif">15</tspan></text>
<text transform="translate(19,809) scale(0.8,1)" text-anchor="middle" x="3.25 10.75 18.25 25.75 33.25" font-size="13" fill="#000" stroke="#000" stroke-width="0.35"><tspan font-family="'Liberation Sans',sans-serif">05</tspan>:<tspan font-family="'Liberation Sans',sans-serif">00</tspan></text>
<text x="2" y="32" font-size="12" fill="#000" stroke="#000" stroke-width="0.2">日経２２５</text>
<text x="68" y="32" font-size="12" fill="#000" stroke="#000" stroke-width="0.2">先物期近</text>
<text x="122" y="32" font-size="12" fill="#000" stroke="#000" stroke-width="0.2">つなぎ足</text>
<text transform="translate(170,32) scale(0.8,1)" text-anchor="middle" x="3.25" font-size="13" fill="#000" stroke="#000" stroke-width="0.35">(</text>
<text transform="translate(182,32) scale(0.8,1)" text-anchor="middle" x="3.25" font-size="13" fill="#000" stroke="#000" stroke-width="0.35"><tspan font-family="'Liberation Sans',sans-serif">5</tspan></text>
<text x="188" y="32" font-size="12" fill="#000" stroke="#000" stroke-width="0.2">分</text>
<text transform="translate(200,32) scale(0.8,1)" text-anchor="middle" x="3.25" font-size="13" fill="#000" stroke="#000" stroke-width="0.35">,</text>
<text transform="translate(212,32) scale(0.8,1)" text-anchor="middle" x="3.25 10.75 18.25 25.75 33.25 40.75 48.25 55.75 63.25 70.75" font-size="13" fill="#000" stroke="#000" stroke-width="0.35"><tspan font-family="'Liberation Sans',sans-serif">2026</tspan>/<tspan font-family="'Liberation Sans',sans-serif">01</tspan>/<tspan font-family="'Liberation Sans',sans-serif">12</tspan></text>
<text transform="translate(278,32) scale(0.8,1)" text-anchor="middle" x="3.25" font-size="13" fill="#000" stroke="#000" stroke-width="0.35">-</text>
<text transform="translate(290,32) scale(0.8,1)" text-anchor="middle" x="3.25 10.75 18.25 25.75 33.25 40.75 48.25 55.75 63.25 70.75" font-size="13" fill="#000" stroke="#000" stroke-width="0.35"><tspan font-family="'Liberation Sans',sans-serif">2026</tspan>/<tspan font-family="'Liberation Sans',sans-serif">01</tspan>/<tspan font-family="'Liberation Sans',sans-serif">15</tspan></text>
<text transform="translate(356,32) scale(0.8,1)" text-anchor="middle" x="3.25" font-size="13" fill="#000" stroke="#000" stroke-width="0.35">)</text>
<text transform="translate(374,32) scale(0.8,1)" text-anchor="middle" x="3.25 10.75 18.25 25.75 33.25 40.75 48.25 55.75" font-size="13" fill="#000" stroke="#000" stroke-width="0.35">C=<tspan font-family="'Liberation Sans',sans-serif">54</tspan>,<tspan font-family="'Liberation Sans',sans-serif">390</tspan></text>
<text transform="translate(428,32) scale(0.8,1)" text-anchor="middle" x="3.25 10.75 18.25 25.75 33.25 40.75 48.25 55.75" font-size="13" fill="#000" stroke="#000" stroke-width="0.35">H=<tspan font-family="'Liberation Sans',sans-serif">54</tspan>,<tspan font-family="'Liberation Sans',sans-serif">410</tspan></text>
<text transform="translate(482,32) scale(0.8,1)" text-anchor="middle" x="3.25 10.75 18.25 25.75 33.25 40.75 48.25 55.75" font-size="13" fill="#000" stroke="#000" stroke-width="0.35">L=<tspan font-family="'Liberation Sans',sans-serif">54</tspan>,<tspan font-family="'Liberation Sans',sans-serif">390</tspan></text>
<text transform="translate(536,32) scale(0.8,1)" text-anchor="middle" x="3.25 10.75 18.25 25.75" font-size="13" fill="#000" stroke="#000" stroke-width="0.35">V=<tspan font-family="'Liberation Sans',sans-serif">18</tspan></text>
<text x="572" y="32" font-size="12" fill="#000" stroke="#000" stroke-width="0.2">移動平均</text>
<text transform="translate(620,32) scale(0.8,1)" text-anchor="middle" x="3.25" font-size="13" fill="#000" stroke="#000" stroke-width="0.35"><tspan font-family="'Liberation Sans',sans-serif">3</tspan></text>
<text x="626" y="32" font-size="12" fill="#000" stroke="#000" stroke-width="0.2">本</text>
<text transform="translate(638,32) scale(0.8,1)" text-anchor="middle" x="3.25" font-size="13" fill="#000" stroke="#000" stroke-width="0.35">(</text>
<text transform="translate(650,32) scale(0.8,1)" text-anchor="middle" x="3.25 10.75 18.25" font-size="13" fill="#000" stroke="#000" stroke-width="0.35"><tspan font-family="'Liberation Sans',sans-serif">25</tspan>,</text>
<text transform="translate(674,32) scale(0.8,1)" text-anchor="middle" x="3.25 10.75 18.25" font-size="13" fill="#000" stroke="#000" stroke-width="0.35"><tspan font-family="'Liberation Sans',sans-serif">70</tspan>,</text>
<text transform="translate(698,32) scale(0.8,1)" text-anchor="middle" x="3.25 10.75 18.25" font-size="13" fill="#000" stroke="#000" stroke-width="0.35"><tspan font-family="'Liberation Sans',sans-serif">200</tspan></text>
<text transform="translate(722,32) scale(0.8,1)" text-anchor="middle" x="3.25" font-size="13" fill="#000" stroke="#000" stroke-width="0.35">)</text>
<text x="739" y="32" font-size="12" fill="#22bb55" stroke="#22bb55" stroke-width="0.2">期間</text>
<text transform="translate(763,32) scale(0.8,1)" text-anchor="middle" x="3.25" font-size="13" fill="#22bb55" stroke="#22bb55" stroke-width="0.35"><tspan font-family="'Liberation Sans',sans-serif">1</tspan></text>
<text x="775" y="32" font-size="12" fill="#22bb55" stroke="#22bb55" stroke-width="0.2">移動平均</text>
<text transform="translate(823,32) scale(0.8,1)" text-anchor="middle" x="3.25 10.75 18.25 25.75 33.25 40.75 48.25 55.75 63.25 70.75" font-size="13" fill="#22bb55" stroke="#22bb55" stroke-width="0.35">=<tspan font-family="'Liberation Sans',sans-serif">54</tspan>,<tspan font-family="'Liberation Sans',sans-serif">426</tspan>.<tspan font-family="'Liberation Sans',sans-serif">80</tspan></text>
<text x="888" y="32" font-size="12" fill="#f05000" stroke="#f05000" stroke-width="0.2">期間</text>
<text transform="translate(912,32) scale(0.8,1)" text-anchor="middle" x="3.25" font-size="13" fill="#f05000" stroke="#f05000" stroke-width="0.35"><tspan font-family="'Liberation Sans',sans-serif">2</tspan></text>
<text x="924" y="32" font-size="12" fill="#f05000" stroke="#f05000" stroke-width="0.2">移動平均</text>
<text transform="translate(972,32) scale(0.8,1)" text-anchor="middle" x="3.25 10.75 18.25 25.75 33.25 40.75 48.25 55.75 63.25 70.75" font-size="13" fill="#f05000" stroke="#f05000" stroke-width="0.35">=<tspan font-family="'Liberation Sans',sans-serif">54</tspan>,<tspan font-family="'Liberation Sans',sans-serif">400</tspan>.<tspan font-family="'Liberation Sans',sans-serif">86</tspan></text>
<text x="1037" y="32" font-size="12" fill="#8b0000" stroke="#8b0000" stroke-width="0.2">期間</text>
<text transform="translate(1061,32) scale(0.8,1)" text-anchor="middle" x="3.25" font-size="13" fill="#8b0000" stroke="#8b0000" stroke-width="0.35"><tspan font-family="'Liberation Sans',sans-serif">3</tspan></text>
<text x="1073" y="32" font-size="12" fill="#8b0000" stroke="#8b0000" stroke-width="0.2">移動平均</text>
<text transform="translate(1121,32) scale(0.8,1)" text-anchor="middle" x="3.25 10.75 18.25 25.75 33.25 40.75 48.25 55.75 63.25 70.75" font-size="13" fill="#8b0000" stroke="#8b0000" stroke-width="0.35">=<tspan font-family="'Liberation Sans',sans-serif">54</tspan>,<tspan font-family="'Liberation Sans',sans-serif">107</tspan>.<tspan font-family="'Liberation Sans',sans-serif">45</tspan></text>
<text transform="translate(1196,32) scale(0.8,1)" text-anchor="middle" x="3.25 10.75 18.25 25.75 33.25 40.75 48.25 55.75 63.25 70.75" font-size="13" fill="#000" stroke="#000" stroke-width="0.35">SwingPoint</text>
<text transform="translate(1262,32) scale(0.8,1)" text-anchor="middle" x="3.25 10.75 18.25 25.75" font-size="13" fill="#000" stroke="#000" stroke-width="0.35">View</text>
<rect x="0" y="0" width="1841" height="19" fill="#111"/><rect x="0" y="19" width="1841" height="1" fill="#000"/>
<defs><linearGradient id="gl" x1="0" y1="0" x2="0" y2="1"><stop offset="0" stop-color="#f4f4f4"/><stop offset="1" stop-color="#b8b8b8"/></linearGradient><linearGradient id="gd" x1="0" y1="0" x2="0" y2="1"><stop offset="0" stop-color="#6a6a6a"/><stop offset="0.5" stop-color="#484848"/><stop offset="1" stop-color="#2c2c2c"/></linearGradient></defs>
<rect x="0" y="0" width="13" height="15" fill="url(#gl)"/>
<path d="M3 5.5 h7.5 l-3.75 4.5 z" fill="#000"/>
<rect x="19" y="0" width="71" height="17.7" fill="#fff"/>
<rect x="89" y="0" width="1" height="17.7" fill="#dfe5ee"/><rect x="19" y="17.099999999999998" width="71" height="0.6" fill="#dfe5ee"/>
<text x="22" y="12" font-size="12" fill="#000" stroke="#000" stroke-width="0">先物</text>
<rect x="72.5" y="1.5" width="14" height="13" fill="#f0f0f0" stroke="#000" shape-rendering="crispEdges"/>
<rect x="73.5" y="2.5" width="12" height="11" fill="none" stroke="#fff" shape-rendering="crispEdges"/>
<g shape-rendering="crispEdges" fill="#000"><rect x="75" y="6" width="7" height="1"/><rect x="76" y="7" width="5" height="1"/><rect x="77" y="8" width="3" height="1"/><rect x="78" y="9" width="1" height="1"/></g>
<rect x="90" y="0" width="99" height="16.9" fill="#fff"/>
<rect x="188" y="0" width="1" height="16.9" fill="#dfe5ee"/><rect x="90" y="16.299999999999997" width="99" height="0.6" fill="#dfe5ee"/>
<text x="93" y="12" font-size="12" fill="#000" stroke="#000" stroke-width="0">日経</text>
<text transform="translate(117,12) scale(0.8,1)" text-anchor="middle" x="3.25 10.75 18.25" font-size="13" fill="#000" stroke="#000" stroke-width="0.15"><tspan font-family="'Liberation Sans',sans-serif">225</tspan></text>
<rect x="170.5" y="1.5" width="14" height="13" fill="#f0f0f0" stroke="#000" shape-rendering="crispEdges"/>
<rect x="171.5" y="2.5" width="12" height="11" fill="none" stroke="#fff" shape-rendering="crispEdges"/>
<g shape-rendering="crispEdges" fill="#000"><rect x="173" y="6" width="7" height="1"/><rect x="174" y="7" width="5" height="1"/><rect x="175" y="8" width="3" height="1"/><rect x="176" y="9" width="1" height="1"/></g>
<rect x="189" y="0" width="71" height="16.9" fill="#fff"/>
<rect x="259" y="0" width="1" height="16.9" fill="#dfe5ee"/><rect x="189" y="16.299999999999997" width="71" height="0.6" fill="#dfe5ee"/>
<text x="195" y="12" font-size="12" fill="#000" stroke="#000" stroke-width="0">つなぎ足</text>
<rect x="242.5" y="1.5" width="14" height="13" fill="#f0f0f0" stroke="#000" shape-rendering="crispEdges"/>
<rect x="243.5" y="2.5" width="12" height="11" fill="none" stroke="#fff" shape-rendering="crispEdges"/>
<g shape-rendering="crispEdges" fill="#000"><rect x="245" y="6" width="7" height="1"/><rect x="246" y="7" width="5" height="1"/><rect x="247" y="8" width="3" height="1"/><rect x="248" y="9" width="1" height="1"/></g>
<rect x="265" y="0.5" width="49" height="15" rx="2.5" fill="url(#gd)"/>
<text x="268" y="12" font-size="12" fill="#f0f0f0" stroke="#f0f0f0" stroke-width="0">ﾗｲﾝ保存</text>
<rect x="319" y="0" width="1" height="16" fill="#ccc"/>
<text x="322" y="12" font-size="12" fill="#fff" stroke="#fff" stroke-width="0">足</text>
<rect x="339.5" y="0.5" width="39" height="15" fill="#0c0c0c" stroke="#d8d8d8" shape-rendering="crispEdges"/>
<text transform="translate(357,12) scale(0.8,1)" text-anchor="middle" x="3.25" font-size="13" fill="#555" stroke="#555" stroke-width="0.15"><tspan font-family="'Liberation Sans',sans-serif">1</tspan></text>
<rect x="364.5" y="1" width="12" height="13" fill="#f2f2f0"/>
<path d="M364.5 14 L376.5 1 V14 z" fill="#cdc9c1"/>
<path d="M364.5 14 L376.5 1" stroke="#222" stroke-width="1" fill="none"/>
<path d="M365.5 5 h4 l-2 -2.5 z" fill="#000"/>
<rect x="382" y="0.5" width="16" height="15" rx="2.5" fill="url(#gd)"/>
<text x="384" y="12" font-size="12" fill="#f0f0f0" stroke="#f0f0f0" stroke-width="0">日</text>
<rect x="401" y="0.5" width="17" height="15" rx="2.5" fill="url(#gd)"/>
<text x="403.5" y="12" font-size="12" fill="#f0f0f0" stroke="#f0f0f0" stroke-width="0">週</text>
<rect x="421" y="0.5" width="17" height="15" rx="2.5" fill="url(#gd)"/>
<text x="423.5" y="12" font-size="12" fill="#f0f0f0" stroke="#f0f0f0" stroke-width="0">月</text>
<rect x="441" y="0.5" width="17" height="15" rx="2.5" fill="#ffffdc"/>
<text x="443.5" y="12" font-size="12" fill="#777" stroke="#777" stroke-width="0">分</text>
<rect x="461" y="0.5" width="17" height="15" rx="2.5" fill="url(#gd)"/>
<text transform="translate(466.5,12) scale(0.8,1)" text-anchor="middle" x="3.25" font-size="13" fill="#f0f0f0" stroke="#f0f0f0" stroke-width="0.15">T</text>
<rect x="484" y="0" width="1" height="16" fill="#ccc"/>
<text x="488" y="12" font-size="12" fill="#fff" stroke="#fff" stroke-width="0">分</text>
<rect x="504" y="0" width="41" height="17" fill="#fff"/>
<text transform="translate(521.5,12) scale(0.8,1)" text-anchor="middle" x="3.25" font-size="13" fill="#000" stroke="#000" stroke-width="0.15"><tspan font-family="'Liberation Sans',sans-serif">5</tspan></text>
<rect x="529.5" y="1" width="12" height="13" fill="#f2f2f0"/>
<path d="M529.5 14 L541.5 1 V14 z" fill="#cdc9c1"/>
<path d="M529.5 14 L541.5 1" stroke="#222" stroke-width="1" fill="none"/>
<path d="M530.5 5 h4 l-2 -2.5 z" fill="#000"/>
<text x="547" y="12" font-size="12" fill="#fff" stroke="#fff" stroke-width="0">本数</text>
<rect x="574" y="0" width="51" height="17" fill="#fff"/>
<text transform="translate(590,12) scale(0.8,1)" text-anchor="middle" x="3.25 10.75 18.25" font-size="13" fill="#000" stroke="#000" stroke-width="0.15"><tspan font-family="'Liberation Sans',sans-serif">700</tspan></text>
<rect x="609.5" y="1" width="12" height="13" fill="#f2f2f0"/>
<path d="M609.5 14 L621.5 1 V14 z" fill="#cdc9c1"/>
<path d="M609.5 14 L621.5 1" stroke="#222" stroke-width="1" fill="none"/>
<path d="M610.5 5 h4 l-2 -2.5 z" fill="#000"/>
<rect x="631" y="0.5" width="32" height="15" rx="2.5" fill="url(#gd)"/>
<text x="635" y="12" font-size="12" fill="#f0f0f0" stroke="#f0f0f0" stroke-width="0">適用</text>
<rect x="671" y="0.5" width="57" height="15" rx="2.5" fill="url(#gd)"/>
<text x="675" y="12" font-size="12" fill="#f0f0f0" stroke="#f0f0f0" stroke-width="0">比較ﾁｬｰﾄ</text>
<rect x="734" y="1" width="10" height="1" fill="#33dd77" shape-rendering="crispEdges"/>
<rect x="734" y="3" width="14" height="1" fill="#33dd77" shape-rendering="crispEdges"/>
<rect x="734" y="5" width="8" height="1" fill="#33dd77" shape-rendering="crispEdges"/>
<rect x="734" y="7" width="18" height="1" fill="#33dd77" shape-rendering="crispEdges"/>
<rect x="734" y="9" width="15" height="1" fill="#33dd77" shape-rendering="crispEdges"/>
<rect x="734" y="11" width="12" height="1" fill="#33dd77" shape-rendering="crispEdges"/>
<rect x="734" y="13" width="4" height="1" fill="#33dd77" shape-rendering="crispEdges"/>
<rect x="734" y="15" width="8" height="1" fill="#33dd77" shape-rendering="crispEdges"/>
</svg>
</body></html>
